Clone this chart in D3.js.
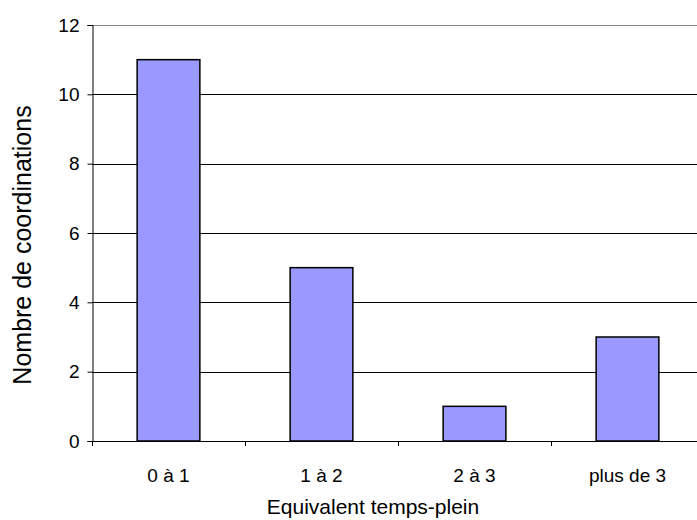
<!DOCTYPE html>
<html lang="fr">
<head>
<meta charset="utf-8">
<title>Nombre de coordinations</title>
<script src="https://d3js.org/d3.v7.min.js"></script>
<style>
  body { margin: 0; background: #fff; }
  svg text { font-family: "Liberation Sans", Arial, sans-serif; fill: #000; }
</style>
</head>
<body>
<script>
// data
const categories = ["0 à 1", "1 à 2", "2 à 3", "plus de 3"];
const values = [11, 5, 1, 3];
const yTicks = [0, 2, 4, 6, 8, 10, 12];

const w = 697, h = 520;
const plotLeft = 92, plotRight = 704, plotTop = 25, plotBottom = 441;

const svg = d3.select("body").append("svg")
    .attr("width", w)
    .attr("height", h);

const x = d3.scaleBand()
    .domain(categories)
    .range([plotLeft, plotRight])
    .paddingInner(0.59)
    .paddingOuter(0.295);

const y = d3.scaleLinear()
    .domain([0, 12])
    .range([plotBottom, plotTop]);

// gridlines
svg.append("g")
  .selectAll("line")
  .data(yTicks.filter(d => d > 0))
  .enter()
  .append("line")
    .attr("x1", plotLeft)
    .attr("x2", w)
    .attr("y1", d => Math.round(y(d)) + 0.5)
    .attr("y2", d => Math.round(y(d)) + 0.5)
    .attr("stroke", d => d === 12 ? "#888" : "#000")
    .attr("stroke-width", 1);

// bars
svg.append("g")
  .selectAll("rect")
  .data(values)
  .enter()
  .append("rect")
    .attr("x", (d, i) => x(categories[i]))
    .attr("y", d => y(d))
    .attr("width", x.bandwidth())
    .attr("height", d => plotBottom - y(d))
    .attr("fill", "#9999ff")
    .attr("stroke", "#000")
    .attr("stroke-width", 1.5);

// y axis
const yAxis = svg.append("g")
    .attr("transform", `translate(${plotLeft + 0.5},0)`)
    .call(d3.axisLeft(y).tickValues(yTicks).tickSize(5).tickPadding(8));
yAxis.select(".domain").attr("stroke", "#000");
yAxis.selectAll(".tick text").style("font-size", "19px");

// x axis (ticks at category boundaries)
const step = x.step();
const bounds = d3.range(categories.length + 1).map(i => plotLeft + i * step);
const xg = svg.append("g");
xg.append("line")
    .attr("x1", plotLeft).attr("x2", w)
    .attr("y1", plotBottom + 0.5).attr("y2", plotBottom + 0.5)
    .attr("stroke", "#000");
xg.selectAll("line.tk")
  .data(bounds)
  .enter()
  .append("line")
    .attr("class", "tk")
    .attr("x1", d => Math.round(d) + 0.5)
    .attr("x2", d => Math.round(d) + 0.5)
    .attr("y1", plotBottom)
    .attr("y2", plotBottom + 5)
    .attr("stroke", "#000");
xg.selectAll("text")
  .data(categories)
  .enter()
  .append("text")
    .attr("x", d => x(d) + x.bandwidth() / 2)
    .attr("y", 482)
    .attr("text-anchor", "middle")
    .style("font-size", "19px")
    .text(d => d);

// axis titles
svg.append("text")
    .attr("x", 373)
    .attr("y", 514)
    .attr("text-anchor", "middle")
    .style("font-size", "21px")
    .text("Equivalent temps-plein");

svg.append("text")
    .attr("transform", "translate(31,245) rotate(-90)")
    .attr("text-anchor", "middle")
    .style("font-size", "25px")
    .text("Nombre de coordinations");
</script>
</body>
</html>
